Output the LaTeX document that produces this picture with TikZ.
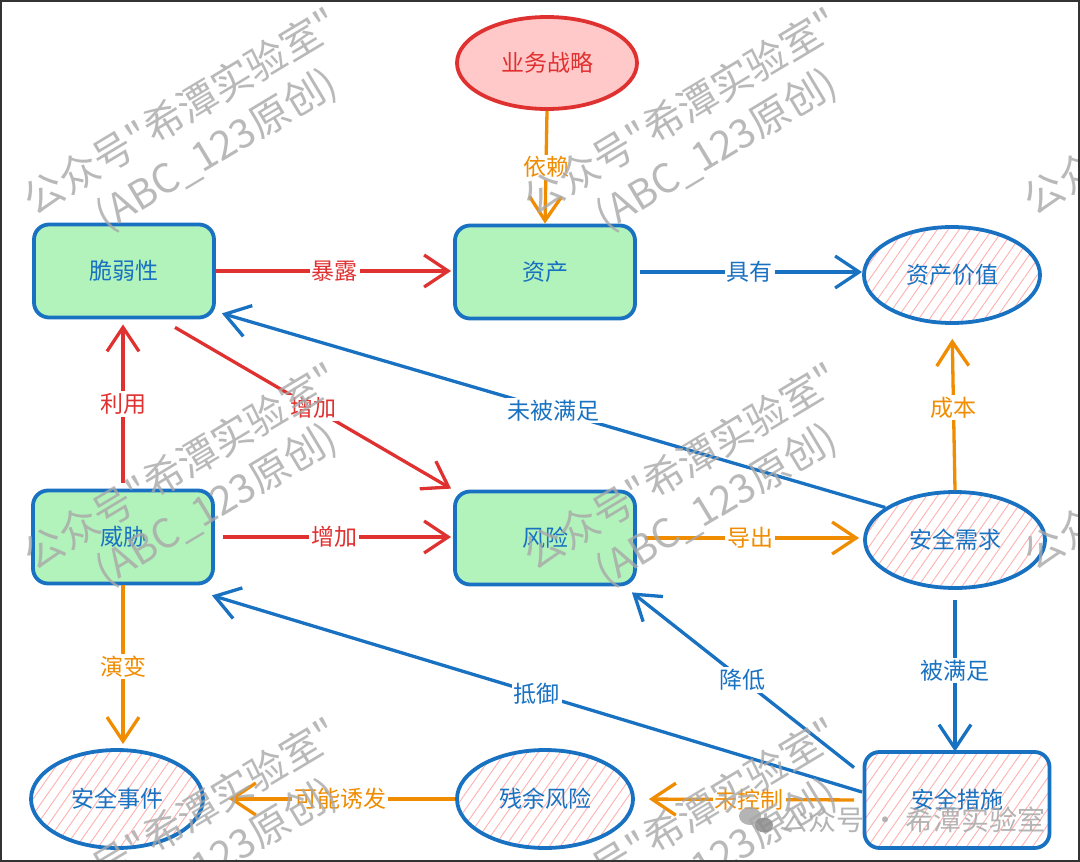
\documentclass[tikz,border=0pt]{standalone}
\usepackage{fontspec}
\setmainfont{Noto Sans CJK SC}
\newfontfamily\wmfont{Noto Sans CJK SC}
\usetikzlibrary{arrows.meta,patterns.meta,calc,shapes.geometric}
\definecolor{cblue}{HTML}{1971C2}
\definecolor{cred}{HTML}{E03131}
\definecolor{corange}{HTML}{F08C00}
\definecolor{cgreen}{HTML}{B2F2BB}
\definecolor{cpink}{HTML}{FFC9C9}
\definecolor{chatch}{HTML}{FFB0B0}
\definecolor{cwm}{HTML}{A8A8A8}
\begin{document}
\begin{tikzpicture}[x=1pt,y=-1pt,
  lbl/.style={font=\fontsize{23}{25}\selectfont},
  rbox/.style={draw=cblue, line width=3.8pt, rounded corners=15pt, minimum width=180pt, minimum height=93pt, inner sep=0pt, text=cblue, lbl},
  oval/.style={ellipse, draw=cblue, line width=3.8pt, minimum width=176pt, minimum height=96pt, inner sep=0pt, text=cblue, lbl},
  hatched/.style={pattern={Lines[angle=55,distance=9pt,line width=0.9pt]}, pattern color=chatch},
  conn/.style={line width=3.3pt, -{Straight Barb[length=24pt,width=32pt,line width=3.3pt]}},
  bluec/.style={conn, color=cblue},
  redc/.style={conn, color=cred},
  orangec/.style={conn, color=corange},
  elab/.style={lbl, fill=white, inner sep=2pt},
  wm/.style={rotate=31, text=cwm, text opacity=0.8, font=\wmfont\fontsize{40}{50}\selectfont, align=center, inner sep=0pt},
]
\useasboundingbox (0,0) rectangle (1080,862);
\fill[white] (0,0) rectangle (1080,862);

% nodes
\node[rbox, fill=cgreen] (vul) at (124,271) {脆弱性};
\node[rbox, fill=cgreen] (asset) at (545,272) {资产};
\node[rbox, fill=cgreen] (threat) at (123,537) {威胁};
\node[rbox, fill=cgreen] (risk) at (545,538) {风险};
\node[rbox, hatched, minimum width=185pt, minimum height=96pt] (meas) at (957,800) {安全措施};
\node[oval, draw=cred, fill=cpink, text=cred, minimum width=180pt, minimum height=92pt] (strat) at (547,63) {业务战略};
\node[oval, hatched] (value) at (952,275) {资产价值};
\node[oval, hatched, minimum width=180pt] (need) at (955,540) {安全需求};
\node[oval, hatched, minimum width=172pt, minimum height=98pt] (event) at (117,799) {安全事件};
\node[oval, hatched, minimum height=98pt] (resid) at (545,799) {残余风险};

% connectors
\draw[orangec] (strat.south) -- node[elab]{依赖} (asset.north);
\draw[redc, shorten >=2pt] (vul.east) -- node[elab]{暴露} (vul.east -| asset.west);
\draw[bluec, shorten <=3pt] (asset.east) -- node[elab]{具有} (asset.east -| value.west);
\draw[redc, shorten >=5pt, shorten <=6pt] (threat.north) -- node[elab]{利用} (threat.north |- vul.south);
\draw[redc] ($(vul.south)+(51,8)$) -- node[elab]{增加} ($(risk.north west)+(-2,-1)$);
\draw[bluec] (need.155) -- node[elab]{未被满足} ($(vul.south east)+(6,-6)$);
\draw[redc, shorten <=8pt, shorten >=2pt] (threat.east) -- node[elab]{增加} (threat.east -| risk.west);
\draw[orangec, shorten <=8pt, shorten >=4pt] (risk.east) -- node[elab]{导出} (risk.east -| need.west);
\draw[orangec, shorten >=14pt] (need.north) -- node[elab]{成本} (value.south);
\draw[bluec, shorten <=10pt] (need.south) -- node[elab]{被满足} (need.south |- meas.north);
\draw[bluec] ($(meas.north west)+(-10,16)$) -- node[elab]{降低} ($(risk.south east)+(-5,6)$);
\draw[bluec] ($(meas.west)+(-2,-8)$) -- node[elab]{抵御} ($(threat.south east)+(-3,10)$);
\draw[orangec, shorten >=4pt] (threat.south) -- node[elab]{演变} (threat.south |- event.north);
\draw[orangec, shorten >=24pt] (resid.west) -- node[elab, pos=0.46]{可能诱发} (event.east);
\draw[orangec, shorten <=10pt, shorten >=14pt] (meas.west) -- node[elab]{未控制} (resid.east);

% watermarks
\begin{scope}
\clip (0,0) rectangle (1080,862);
\foreach \cx in {0,500,1000} {
  \foreach \cy in {0,355,710} {
    \node[wm] (wm-\cx-\cy) at (194.5+\cx, 134.5+\cy) {公众号"希潭实验室"\\\hspace*{22pt}(ABC\_123原创)};
  }
}
\end{scope}
\fill[cwm, opacity=0.85] (750,816) ellipse [x radius=11, y radius=9];
\fill[black!45, opacity=0.85] (764,825) ellipse [x radius=9, y radius=7.5];
\node[text=cwm, text opacity=0.85, font=\wmfont\fontsize{28}{30}\selectfont, inner sep=0pt] (wmb) at (913,820) {公众号 · 希潭实验室};

% frame
\draw[line width=2pt, draw=black!80] (1,1) rectangle (1079,861);
\end{tikzpicture}
\end{document}
